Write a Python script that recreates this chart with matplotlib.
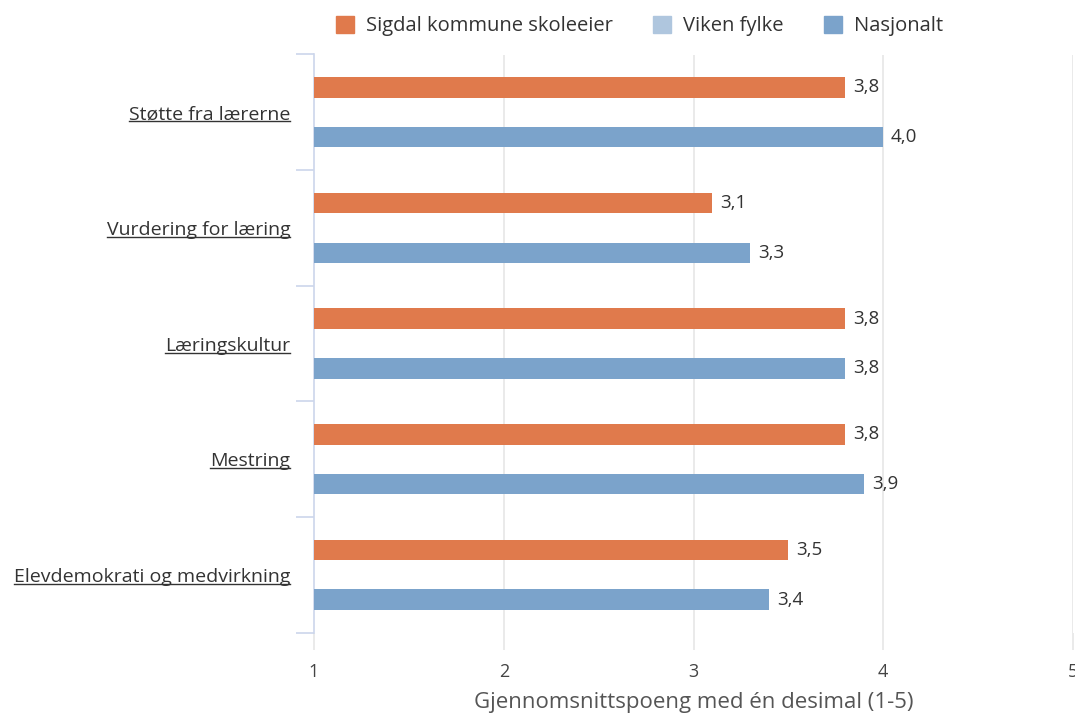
import matplotlib
matplotlib.use("Agg")
import matplotlib.pyplot as plt
import numpy as np
from matplotlib.patches import Patch

categories = [
    "Støtte fra lærerne",
    "Vurdering for læring",
    "Læringskultur",
    "Mestring",
    "Elevdemokrati og medvirkning",
]
series_names = ["Sigdal kommune skoleeier", "Viken fylke", "Nasjonalt"]
sigdal = [3.8, 3.1, 3.8, 3.8, 3.5]
viken = [None, None, None, None, None]  # no data for Viken
nasjonalt = [4.0, 3.3, 3.8, 3.9, 3.4]
x_ticks = [1, 2, 3, 4, 5]

colors = ["#e07a4c", "#afc6de", "#7ba3cb"]
text_col = "#333333"

plt.rcParams["font.family"] = ["Open Sans", "DejaVu Sans"]

fig = plt.figure(figsize=(10.75, 7.18), dpi=100)
ax = fig.add_axes([314 / 1075, 1 - 632.7 / 718, (1073 - 314) / 1075, (632.7 - 54.5) / 718])

y = np.arange(len(categories))
offsets = [-0.215, 0.0, 0.215]
bar_h = 0.178

for vals, off, col in zip([sigdal, viken, nasjonalt], offsets, colors):
    for yi, v in zip(y, vals):
        if v is None:
            continue
        ax.barh(yi + off, v - 1, left=1, height=bar_h, color=col, zorder=3)
        ax.text(v + 0.04, yi + off, f"{v:.1f}".replace(".", ","), va="center", ha="left",
                fontsize=13.5, color=text_col, zorder=4)

ax.set_xlim(1, 5)
ax.set_ylim(len(categories) - 0.5, -0.5)

# vertical grid
for xv in x_ticks[1:]:
    ax.axvline(xv, color="#e6e6e6", lw=1.2, zorder=1)

for s in ["top", "right", "bottom"]:
    ax.spines[s].set_visible(False)
ax.spines["left"].set_color("#ccd6eb")
ax.spines["left"].set_linewidth(1.2)
ax.spines["left"].set_zorder(2)

ax.set_xticks(x_ticks)
ax.set_xticklabels([str(t) for t in x_ticks], fontsize=13, color="#444444")
ax.tick_params(axis="x", length=12, width=1.2, color="#e6e6e6", pad=10)

# category ticks on band boundaries
ax.set_yticks(np.arange(len(categories) + 1) - 0.5, minor=False)
ax.set_yticklabels([])
ax.tick_params(axis="y", length=13, width=1.2, color="#ccd6eb")
ax.set_yticks(y, minor=True)
ax.set_yticklabels(categories, minor=True, fontsize=14, color=text_col)
ax.tick_params(axis="y", which="minor", length=0, pad=17)

ax.set_xlabel("Gjennomsnittspoeng med én desimal (1-5)", fontsize=16, color="#555555", labelpad=8)

# underline the category labels
fig.canvas.draw()
renderer = fig.canvas.get_renderer()
for lbl in ax.get_yticklabels(minor=True):
    bb = lbl.get_window_extent(renderer)
    yl = bb.y0 + 2
    fig.add_artist(plt.Line2D([bb.x0 / fig.bbox.width, bb.x1 / fig.bbox.width],
                              [yl / fig.bbox.height, yl / fig.bbox.height],
                              color=text_col, lw=1.0))

handles = [Patch(color=c) for c in colors]
fig.legend(handles, series_names, loc="center", bbox_to_anchor=(0.595, 1 - 26 / 718), ncol=3,
           frameon=False, fontsize=14.5, handlelength=0.9, handleheight=0.9,
           columnspacing=2.0, handletextpad=0.6, labelcolor=text_col)

fig.savefig("out.png", dpi=100, facecolor="white")
